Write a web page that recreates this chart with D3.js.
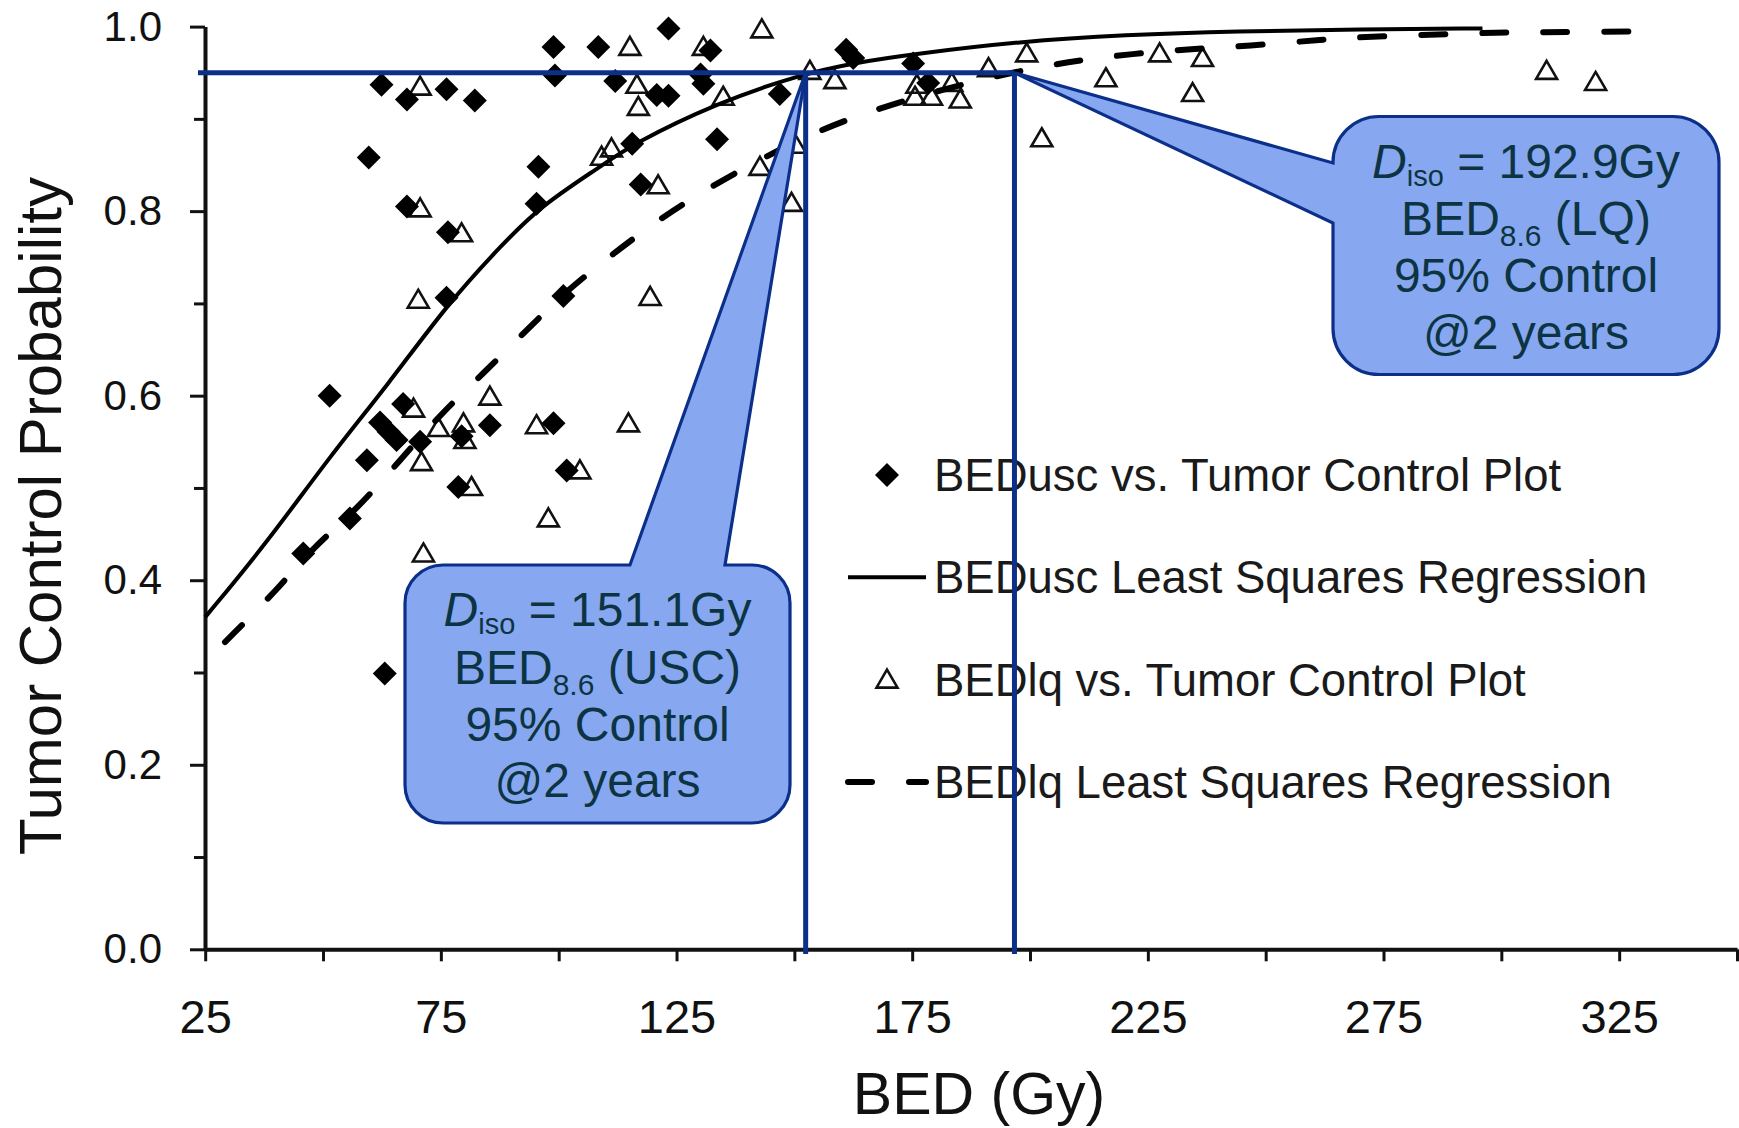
<!DOCTYPE html>
<html>
<head>
<meta charset="utf-8">
<script src="https://cdn.jsdelivr.net/npm/d3@7"></script>
<style>
body { margin: 0; background: #fff; }
svg { display: block; font-family: "Liberation Sans", Arial, sans-serif; }
</style>
</head>
<body>
<div id="chart"></div>
<script>
// BEDusc vs. tumor control (diamonds)
var uscBed = [51.4, 62.4, 67.8, 76.2, 82.2, 59.7, 67.8, 76.5, 76.2, 95.7, 95.3, 98.9, 99.2, 108.4, 112.0,
	115.6, 117.4, 120.8, 123.3, 123.3, 132.2, 130.1, 130.7, 133.6, 146.9, 161.0, 162.5, 175.2, 178.4,
	101.0, 67.0, 62.1, 63.9, 65.6, 59.3, 70.6, 85.4, 98.9, 78.7, 101.7, 45.8, 55.7, 63.1, 79.4];
var uscTcp = [0.600, 0.937, 0.921, 0.932, 0.920, 0.858, 0.805, 0.777, 0.706, 0.848, 0.808, 0.978, 0.947, 0.978, 0.941,
	0.873, 0.829, 0.926, 0.925, 0.998, 0.974, 0.948, 0.938, 0.878, 0.927, 0.975, 0.966, 0.960, 0.939,
	0.708, 0.591, 0.571, 0.561, 0.552, 0.530, 0.550, 0.568, 0.570, 0.501, 0.519, 0.429, 0.467, 0.299, 0.556];

// BEDlq vs. tumor control (triangles)
var lqBed = [70.6, 70.6, 79.4, 70.2, 115.1, 116.6, 116.9, 121.1, 111.2, 109.1, 143.1, 130.7, 134.9, 119.4,
	149.4, 142.7, 85.4, 69.2, 74.5, 79.8, 80.1, 95.3, 114.8, 70.9, 81.5, 104.5, 97.8, 71.3, 150.2, 153.3,
	158.6, 175.6, 179.1, 185.2, 183.4, 176.0, 191.2, 199.3, 202.5, 216.1, 227.5, 234.5, 236.6, 309.6, 320.0];
var lqTcp = [0.935, 0.803, 0.776, 0.704, 0.978, 0.937, 0.913, 0.828, 0.868, 0.859, 0.997, 0.978, 0.924, 0.707,
	0.809, 0.848, 0.599, 0.586, 0.565, 0.570, 0.552, 0.568, 0.570, 0.528, 0.501, 0.519, 0.467, 0.429, 0.872, 0.952,
	0.942, 0.924, 0.924, 0.921, 0.939, 0.937, 0.955, 0.971, 0.879, 0.944, 0.971, 0.928, 0.966, 0.952, 0.940];

// least squares regression curves
var uscFitBed = [25, 38, 52, 63.5, 76.5, 87.5, 96, 108.8, 115.8, 133.5, 151.2, 163, 175, 198, 220, 244, 270, 296];
var uscFitTcp = [0.360, 0.440, 0.538, 0.610, 0.700, 0.761, 0.805, 0.848, 0.873, 0.917, 0.948, 0.961, 0.970, 0.984, 0.991, 0.995, 0.997, 0.998];
var lqFitBed = [29.2, 40.2, 47.9, 57.1, 66.3, 75.5, 84, 93, 101.7, 111.6, 121.5, 132.1, 142.7, 155.4, 166, 178, 190,
	202.5, 214, 226.6, 238.6, 251.6, 264, 276.6, 289.7, 302, 314.6, 334];
var lqFitTcp = [0.333, 0.389, 0.436, 0.476, 0.530, 0.583, 0.624, 0.670, 0.714, 0.754, 0.792, 0.826, 0.856, 0.888, 0.908, 0.927, 0.943,
	0.957, 0.966, 0.973, 0.977, 0.981, 0.987, 0.990, 0.992, 0.994, 0.994, 0.995];

var xTicks = [25, 50, 75, 100, 125, 150, 175, 200, 225, 250, 275, 300, 325, 350];
var xLabels = [25, 75, 125, 175, 225, 275, 325];
var yMajor = [0, 0.2, 0.4, 0.6, 0.8, 1.0];
var yMinor = [0.1, 0.3, 0.5, 0.7, 0.9];

// 95% control iso-dose markers
var isoTcp = 0.95;
var isoBed = [152.4, 196.7];
var isoDose = ["151.1Gy", "192.9Gy"];
var isoModel = ["(USC)", "(LQ)"];

var legendLabels = ["BEDusc vs. Tumor Control Plot", "BEDusc Least Squares Regression",
	"BEDlq vs. Tumor Control Plot", "BEDlq Least Squares Regression"];

var width = 1739, height = 1128;
var navy = "#0c2f8a", boxFill = "#87a8f1", boxText = "#0d3442";

var svg = d3.select("#chart").append("svg")
	.attr("width", width)
	.attr("height", height);

var x = d3.scaleLinear().domain([25, 350]).range([205.2, 1737]);
var y = d3.scaleLinear().domain([0, 1]).range([949.3, 26.6]);

//y axis, minor then major ticks
svg.append("g")
	.attr("transform", "translate(205,0)")
	.call(d3.axisLeft(y).tickValues(yMinor).tickSize(11).tickSizeOuter(0).tickFormat(""))
	.call(function(g) { g.select(".domain").remove(); });

var yAxis = svg.append("g")
	.attr("transform", "translate(205,0)")
	.call(d3.axisLeft(y).tickValues(yMajor).tickSize(15).tickSizeOuter(0).tickPadding(28).tickFormat(d3.format(".1f")));

//x axis
var xAxis = svg.append("g")
	.attr("transform", "translate(0,949.3)")
	.call(d3.axisBottom(x).tickValues(xTicks).tickSize(12).tickSizeOuter(0).tickPadding(38)
		.tickFormat(function(d) { return xLabels.indexOf(d) >= 0 ? d : ""; }));

svg.selectAll(".domain").attr("stroke", "#111").attr("stroke-width", 4);
svg.selectAll(".tick line").attr("stroke", "#111").attr("stroke-width", 3);
yAxis.selectAll("text").attr("font-size", 42).attr("fill", "#111").style("font-family", "inherit");
xAxis.selectAll("text").attr("font-size", 47).attr("fill", "#111").style("font-family", "inherit");

//axis titles
svg.append("text")
	.attr("transform", "translate(61,516) rotate(-90)")
	.attr("text-anchor", "middle")
	.attr("font-size", 60)
	.attr("fill", "#111")
	.text("Tumor Control Probability");

svg.append("text")
	.attr("x", 979)
	.attr("y", 1114)
	.attr("text-anchor", "middle")
	.attr("font-size", 59)
	.attr("fill", "#111")
	.text("BED (Gy)");

var diamond = "M0,-12L12,0L0,12L-12,0Z";
var triangle = "M0,-10L10.5,8L-10.5,8Z";

//scatter points
svg.append("g").selectAll("path")
	.data(d3.zip(lqBed, lqTcp))
	.enter()
	.append("path")
	.attr("d", triangle)
	.attr("transform", function(d) { return "translate(" + x(d[0]) + "," + y(d[1]) + ")"; })
	.attr("fill", "none")
	.attr("stroke", "#111")
	.attr("stroke-width", 2.6);

svg.append("g").selectAll("path")
	.data(d3.zip(uscBed, uscTcp))
	.enter()
	.append("path")
	.attr("d", diamond)
	.attr("transform", function(d) { return "translate(" + x(d[0]) + "," + y(d[1]) + ")"; })
	.attr("fill", "#000");

//regression curves
var line = d3.line()
	.x(function(d) { return x(d[0]); })
	.y(function(d) { return y(d[1]); })
	.curve(d3.curveBasis);

svg.append("path")
	.attr("d", line(d3.zip(uscFitBed, uscFitTcp)))
	.attr("fill", "none")
	.attr("stroke", "#000")
	.attr("stroke-width", 4);

svg.append("path")
	.attr("d", line(d3.zip(lqFitBed, lqFitTcp)))
	.attr("fill", "none")
	.attr("stroke", "#000")
	.attr("stroke-width", 6)
	.attr("stroke-linecap", "round")
	.attr("stroke-dasharray", "24 37");

//legend
var legend = svg.append("g").attr("transform", "translate(0,475)");
legendLabels.forEach(function(label, i) {
	var row = legend.append("g").attr("transform", "translate(0," + (i * 102.3) + ")");
	if (i == 0) row.append("path").attr("d", diamond).attr("transform", "translate(887,0)").attr("fill", "#000");
	if (i == 2) row.append("path").attr("d", triangle).attr("transform", "translate(887,0)")
		.attr("fill", "none").attr("stroke", "#111").attr("stroke-width", 2.6);
	if (i == 1 || i == 3) {
		row.append("line")
			.attr("x1", 848).attr("x2", 926)
			.attr("stroke", "#000")
			.attr("stroke-width", i == 1 ? 4 : 6)
			.attr("stroke-linecap", i == 1 ? "butt" : "round")
			.attr("stroke-dasharray", i == 1 ? null : "24 37");
	}
	row.append("text")
		.attr("x", 934)
		.attr("y", 16)
		.attr("font-size", 45.5)
		.attr("fill", "#1a1a1a")
		.text(label);
});

//95% control guide lines
var yIso = y(isoTcp);
svg.append("line")
	.attr("x1", 198).attr("x2", x(isoBed[1]))
	.attr("y1", yIso).attr("y2", yIso)
	.attr("stroke", navy).attr("stroke-width", 5);

svg.selectAll(".isoLine")
	.data(isoBed)
	.enter()
	.append("line")
	.attr("class", "isoLine")
	.attr("x1", function(d) { return x(d); })
	.attr("x2", function(d) { return x(d); })
	.attr("y1", yIso)
	.attr("y2", 954)
	.attr("stroke", navy)
	.attr("stroke-width", 5);

//callouts: box corner, wedge base on top edge (left box) or left edge (right box)
var boxes = [
	{ x0: 405, y0: 565, w: 385, h: 258, r: 38, side: "top", a: 630, b: 725 },
	{ x0: 1333, y0: 116.5, w: 386, h: 258, r: 46, side: "left", a: 163, b: 223 }
];

function calloutPath(bx, tip) {
	var p = d3.path(), x0 = bx.x0, y0 = bx.y0, x1 = bx.x0 + bx.w, y1 = bx.y0 + bx.h, r = bx.r;
	p.moveTo(x0 + r, y0);
	if (bx.side == "top") {
		p.lineTo(bx.a, y0);
		p.lineTo(tip[0], tip[1]);
		p.lineTo(bx.b, y0);
	}
	p.lineTo(x1 - r, y0);
	p.arcTo(x1, y0, x1, y0 + r, r);
	p.lineTo(x1, y1 - r);
	p.arcTo(x1, y1, x1 - r, y1, r);
	p.lineTo(x0 + r, y1);
	p.arcTo(x0, y1, x0, y1 - r, r);
	if (bx.side == "left") {
		p.lineTo(x0, bx.b);
		p.lineTo(tip[0], tip[1]);
		p.lineTo(x0, bx.a);
	}
	p.lineTo(x0, y0 + r);
	p.arcTo(x0, y0, x0 + r, y0, r);
	p.closePath();
	return p.toString();
}

boxes.forEach(function(bx, i) {
	var tip = [x(isoBed[i]), yIso];
	svg.append("path")
		.attr("d", calloutPath(bx, tip))
		.attr("fill", boxFill)
		.attr("stroke", navy)
		.attr("stroke-width", 3.2)
		.attr("stroke-linejoin", "miter");

	var cx = bx.x0 + bx.w / 2;
	var g = svg.append("g")
		.attr("fill", boxText)
		.attr("font-size", 48)
		.attr("text-anchor", "middle");

	var t1 = g.append("text").attr("x", cx).attr("y", bx.y0 + 61);
	t1.append("tspan").attr("font-style", "italic").text("D");
	t1.append("tspan").attr("font-size", 29).attr("dy", 8).text("iso");
	t1.append("tspan").attr("dy", -8).text(" = " + isoDose[i]);

	var t2 = g.append("text").attr("x", cx).attr("y", bx.y0 + 118.5);
	t2.append("tspan").text("BED");
	t2.append("tspan").attr("font-size", 30).attr("dy", 11).text("8.6");
	t2.append("tspan").attr("dy", -11).text(" " + isoModel[i]);

	g.append("text").attr("x", cx).attr("y", bx.y0 + 175.5).text("95% Control");
	g.append("text").attr("x", cx).attr("y", bx.y0 + 232).text("@2 years");
});
</script>
</body>
</html>
